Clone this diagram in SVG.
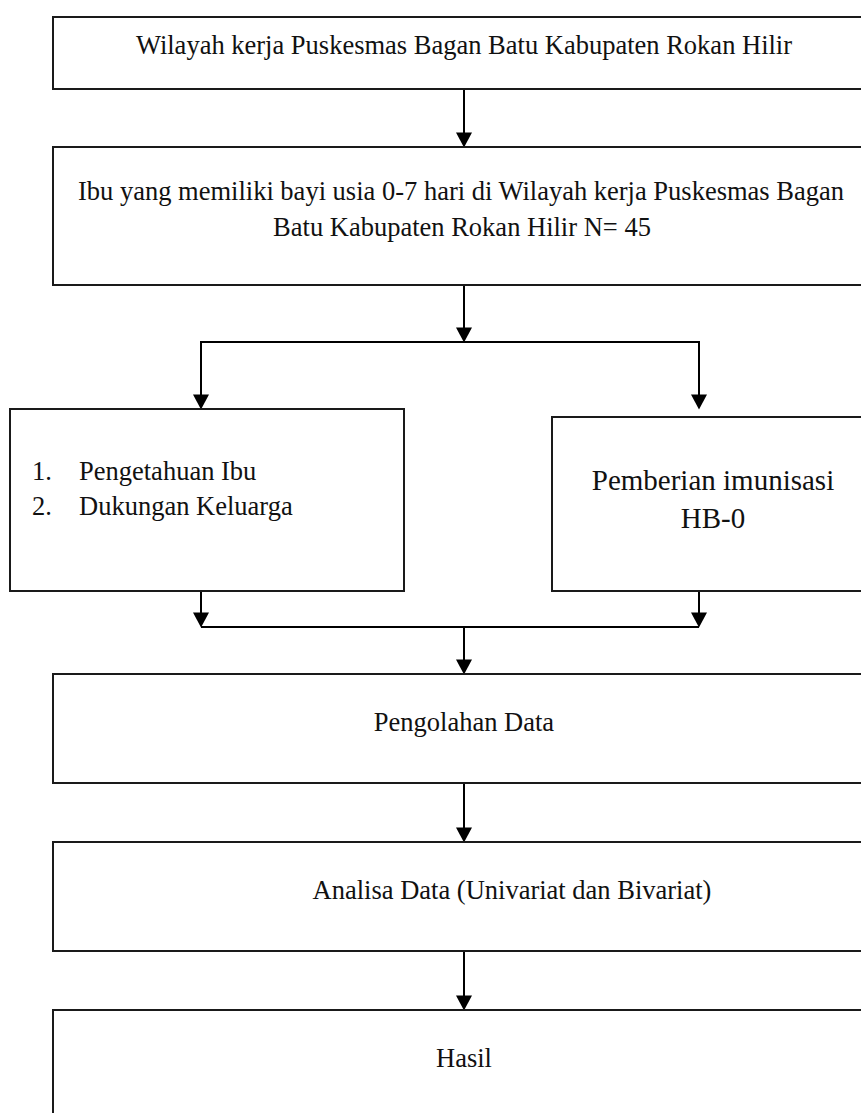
<svg xmlns="http://www.w3.org/2000/svg" width="861" height="1113" viewBox="0 0 861 1113">
<style>
.box{fill:#fff;stroke:#1a1a1a;stroke-width:2}
.t{font-family:"Liberation Serif","Times New Roman",serif;font-size:26.5px;fill:#111}
.c{text-anchor:middle}
.ln{fill:none;stroke:#000;stroke-width:2}
</style>
<defs>
<marker id="ah" markerUnits="userSpaceOnUse" markerWidth="16" markerHeight="16" viewBox="0 0 14 15" refX="6" refY="7.5" orient="auto">
<path d="M0,0 L14,7.5 L0,15 Z" fill="#000"/>
</marker>
</defs>
<rect width="861" height="1113" fill="#fff"/>
<g id="connectors">
<line class="ln" x1="464" y1="89" x2="464" y2="139" marker-end="url(#ah)"/>
<line class="ln" x1="464" y1="285" x2="464" y2="334" marker-end="url(#ah)"/>
<line class="ln" x1="201" y1="342" x2="699" y2="342"/>
<line class="ln" x1="201" y1="341" x2="201" y2="401" marker-end="url(#ah)"/>
<line class="ln" x1="699" y1="341" x2="699" y2="401" marker-end="url(#ah)"/>
<line class="ln" x1="201" y1="591" x2="201" y2="619" marker-end="url(#ah)"/>
<line class="ln" x1="699" y1="591" x2="699" y2="619" marker-end="url(#ah)"/>
<line class="ln" x1="201" y1="627" x2="699" y2="627"/>
<line class="ln" x1="464" y1="627" x2="464" y2="666" marker-end="url(#ah)"/>
<line class="ln" x1="464" y1="783" x2="464" y2="834" marker-end="url(#ah)"/>
<line class="ln" x1="464" y1="951" x2="464" y2="1002" marker-end="url(#ah)"/>
</g>
<g id="n1">
<rect class="box" x="53" y="17" width="830" height="72"/>
<text class="t c" x="464" y="54">Wilayah kerja Puskesmas Bagan Batu Kabupaten Rokan Hilir</text>
</g>
<g id="n2">
<rect class="box" x="53" y="147" width="830" height="138"/>
<text class="t c" x="461" y="200">Ibu yang memiliki bayi usia 0-7 hari di Wilayah kerja Puskesmas Bagan</text>
<text class="t c" x="462" y="236">Batu Kabupaten Rokan Hilir N= 45</text>
</g>
<g id="n3">
<rect class="box" x="10" y="409" width="394" height="182"/>
<text class="t" x="32" y="480">1.</text>
<text class="t" x="79" y="480">Pengetahuan Ibu</text>
<text class="t" x="32" y="515">2.</text>
<text class="t" x="79" y="515">Dukungan Keluarga</text>
</g>
<g id="n4">
<rect class="box" x="552" y="417" width="330" height="174"/>
<text class="t c" x="713" y="490" style="font-size:29px">Pemberian imunisasi</text>
<text class="t c" x="713" y="528" style="font-size:29px">HB-0</text>
</g>
<g id="n5">
<rect class="box" x="53" y="674" width="830" height="109"/>
<text class="t c" x="464" y="731">Pengolahan Data</text>
</g>
<g id="n6">
<rect class="box" x="53" y="842" width="830" height="109"/>
<text class="t c" x="512" y="899">Analisa Data (Univariat dan Bivariat)</text>
</g>
<g id="n7">
<rect class="box" x="53" y="1010" width="830" height="130"/>
<text class="t c" x="464" y="1067">Hasil</text>
</g>
</svg>
